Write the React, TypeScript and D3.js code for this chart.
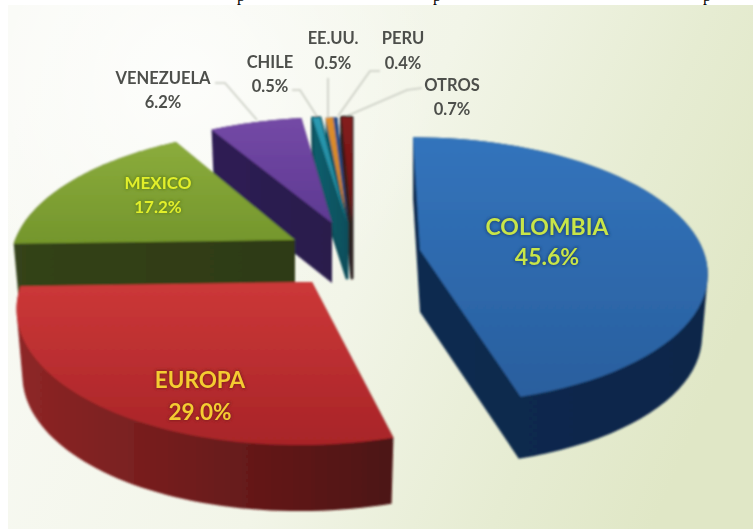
import React from "react";
import * as d3 from "d3";

const W = 753, H = 529;
const categories = ["COLOMBIA", "EUROPA", "MEXICO", "VENEZUELA", "CHILE", "EE.UU.", "PERU", "OTROS"];
const shares = [45.6, 29.0, 17.2, 6.2, 0.5, 0.5, 0.4, 0.7];
const shareLabels = ["45.6%", "29.0%", "17.2%", "6.2%", "0.5%", "0.5%", "0.4%", "0.7%"];
const topColors = [["#3274bc", "#2a5f9e"], ["#cc3838", "#a82428"], ["#8bac3c", "#74962c"], ["#7449a6", "#5e3a92"], ["#2a9ab2", "#1f7f92"], ["#e08e2c", "#c87f28"], ["#2b4f8a", "#26457a"], ["#831b1b", "#701616"]];
const sideColors = [["#112a50", "#10274a"], ["#8e2626", "#4c1212"], ["#34431a", "#2e3a12"], ["#2e1c54", "#2a1a4c"], ["#0e5f6e", "#0c4f5c"], ["#0e5f6e", "#0e4f5c"], ["#1c2f52", "#1a2a48"], ["#4a1414", "#2a2420"]];

// projection of each exploded slice: apex, radii, skew, perspective
const sliceCx = [420, 312, 295, 332, 347, 347, 348, 352];
const sliceCy = [250, 282, 240, 223, 223, 223, 223, 223];
const sliceRx = [283, 290, 280, 276, 276, 276, 276, 276];
const sliceRy = [130, 138, 128, 122, 122, 122, 122, 122];
const sliceSkew = [-8, 11, 5, 1, -3.5, 3, 0, 0];
const sliceDepth = [62, 66, 62, 60, 55, 55, 55, 55];
const sideStroke = [0, 0, 0, 0, 3, 0, 0, 3];
const drawOrder = [7, 6, 5, 4, 3, 2, 1, 0];
const P = 0.154;

// outer labels
const outerIdx = [3, 4, 5, 6, 7];
const outerX = [163, 270, 333, 403, 452];
const outerY1 = [84, 68, 44, 44, 91];
const outerY2 = [108, 92, 69, 69, 115];
const leaders: [number, number][][] = [
  [[215, 83], [225, 83], [257, 120]],
  [[292, 90], [300, 90], [318, 118]],
  [[328, 78], [328, 118]],
  [[380, 71], [370, 71], [338, 116]],
  [[422, 88], [407, 90], [347, 116]],
];
// inner labels
const innerIdx = [0, 1, 2];
const innerX = [547, 200, 158];
const innerY1 = [235, 388, 189];
const innerY2 = [265, 420, 213];
const innerSize = [23, 22.5, 17];
const innerColor = ["#c8e548", "#f4cc30", "#e2ef2c"];
const innerGlow = ["#1e4a80", "#8a2020", "#6a8a20"];
const cutOffX = [241, 437, 707];

const pie = d3.pie<number>().sort(null).value((d) => d)(shares);
const lineGen = d3.line();

function project(i: number, a: number, bottom: boolean): [number, number] {
  const X = Math.sin(a), Y = Math.cos(a), w = 1 + P * Y;
  const rx = sliceRx[i] * (bottom ? 0.98 : 1);
  const d = bottom ? sliceDepth[i] : 0;
  return [sliceCx[i] + (rx * X + sliceSkew[i] * Y) / w, sliceCy[i] + d - (sliceRy[i] * Y) / w];
}
function outline(i: number, bottom: boolean): [number, number][] {
  const s = pie[i].startAngle, e = pie[i].endAngle;
  const angles = d3.range(0, 61).map((k) => s + ((e - s) * k) / 60);
  return [[sliceCx[i], sliceCy[i] + (bottom ? sliceDepth[i] : 0)] as [number, number], ...angles.map((a) => project(i, a, bottom))];
}

export default function App() {
  return (
    <svg width={W} height={H} style={{ position: "fixed", left: 0, top: 0, display: "block", background: "#fff" }} fontFamily="Lato, 'Open Sans', sans-serif" fontWeight={700}>
      <defs>
        <linearGradient id="bg" x1="0" y1="0.25" x2="1" y2="0.55">
          <stop offset="0" stopColor="#f9faf5" />
          <stop offset="0.5" stopColor="#f2f5e8" />
          <stop offset="0.8" stopColor="#e6ecd2" />
          <stop offset="1" stopColor="#e0e7c6" />
        </linearGradient>
        <radialGradient id="glow" gradientUnits="userSpaceOnUse" cx={180} cy={80} r={260}>
          <stop offset="0" stopColor="#ffffff" stopOpacity={0.75} />
          <stop offset="1" stopColor="#ffffff" stopOpacity={0} />
        </radialGradient>
        <filter id="soft" x="-5%" y="-5%" width="110%" height="110%"><feGaussianBlur stdDeviation="0.8" /></filter>
        <filter id="softT" x="-20%" y="-20%" width="140%" height="140%"><feGaussianBlur stdDeviation="0.6" /></filter>
        <filter id="halo" x="-20%" y="-30%" width="140%" height="160%"><feGaussianBlur stdDeviation="1.4" /></filter>
        {categories.map((c, i) => (
          <linearGradient key={c} id={`top${i}`} x1="0" y1="0" x2="0" y2="1">
            <stop offset="0" stopColor={topColors[i][0]} />
            <stop offset="1" stopColor={topColors[i][1]} />
          </linearGradient>
        ))}
        {categories.map((c, i) => (
          <linearGradient key={c} id={`side${i}`} x1="0" y1="0" x2="1" y2="0">
            <stop offset="0" stopColor={sideColors[i][0]} />
            <stop offset="1" stopColor={sideColors[i][1]} />
          </linearGradient>
        ))}
      </defs>
      {cutOffX.map((x) => (
        <text key={x} x={x} y={1} textAnchor="middle" fontFamily="'Liberation Serif', serif" fontWeight={400} fontSize={16} fill="#000">p</text>
      ))}
      <rect x={8} y={5} width={W - 8} height={H - 5} fill="url(#bg)" />
      <rect x={8} y={5} width={W - 8} height={H - 5} fill="url(#glow)" />

      <g filter="url(#soft)">
        {leaders.map((pts, i) => (
          <path key={i} d={lineGen(pts) ?? ""} fill="none" stroke="#c9ccc2" strokeWidth={1.6} />
        ))}
        {drawOrder.map((i) => {
          const top = outline(i, false);
          const hull = d3.polygonHull([...top, ...outline(i, true)]) ?? [];
          return (
            <g key={categories[i]}>
              <path d={(lineGen(hull) ?? "") + "Z"} fill={`url(#side${i})`} stroke={sideColors[i][1]} strokeWidth={sideStroke[i]} strokeLinejoin="round" />
              <path d={(lineGen(top) ?? "") + "Z"} fill={`url(#top${i})`} />
            </g>
          );
        })}
      </g>

      <g filter="url(#softT)" textAnchor="middle" fill="#4e504c" fontSize={16.5}>
        {outerIdx.map((c, k) => (
          <g key={c}>
            <text x={outerX[k]} y={outerY1[k]}>{categories[c]}</text>
            <text x={outerX[k]} y={outerY2[k]}>{shareLabels[c]}</text>
          </g>
        ))}
      </g>
      {innerIdx.map((c, k) => (
        <g key={c} textAnchor="middle" fontSize={innerSize[k]}>
          <g filter="url(#halo)" fill={innerGlow[k]} stroke={innerGlow[k]} strokeWidth={2}>
            <text x={innerX[k]} y={innerY1[k]}>{categories[c]}</text>
            <text x={innerX[k]} y={innerY2[k]}>{shareLabels[c]}</text>
          </g>
          <g filter="url(#softT)" fill={innerColor[k]}>
            <text x={innerX[k]} y={innerY1[k]}>{categories[c]}</text>
            <text x={innerX[k]} y={innerY2[k]}>{shareLabels[c]}</text>
          </g>
        </g>
      ))}
    </svg>
  );
}
